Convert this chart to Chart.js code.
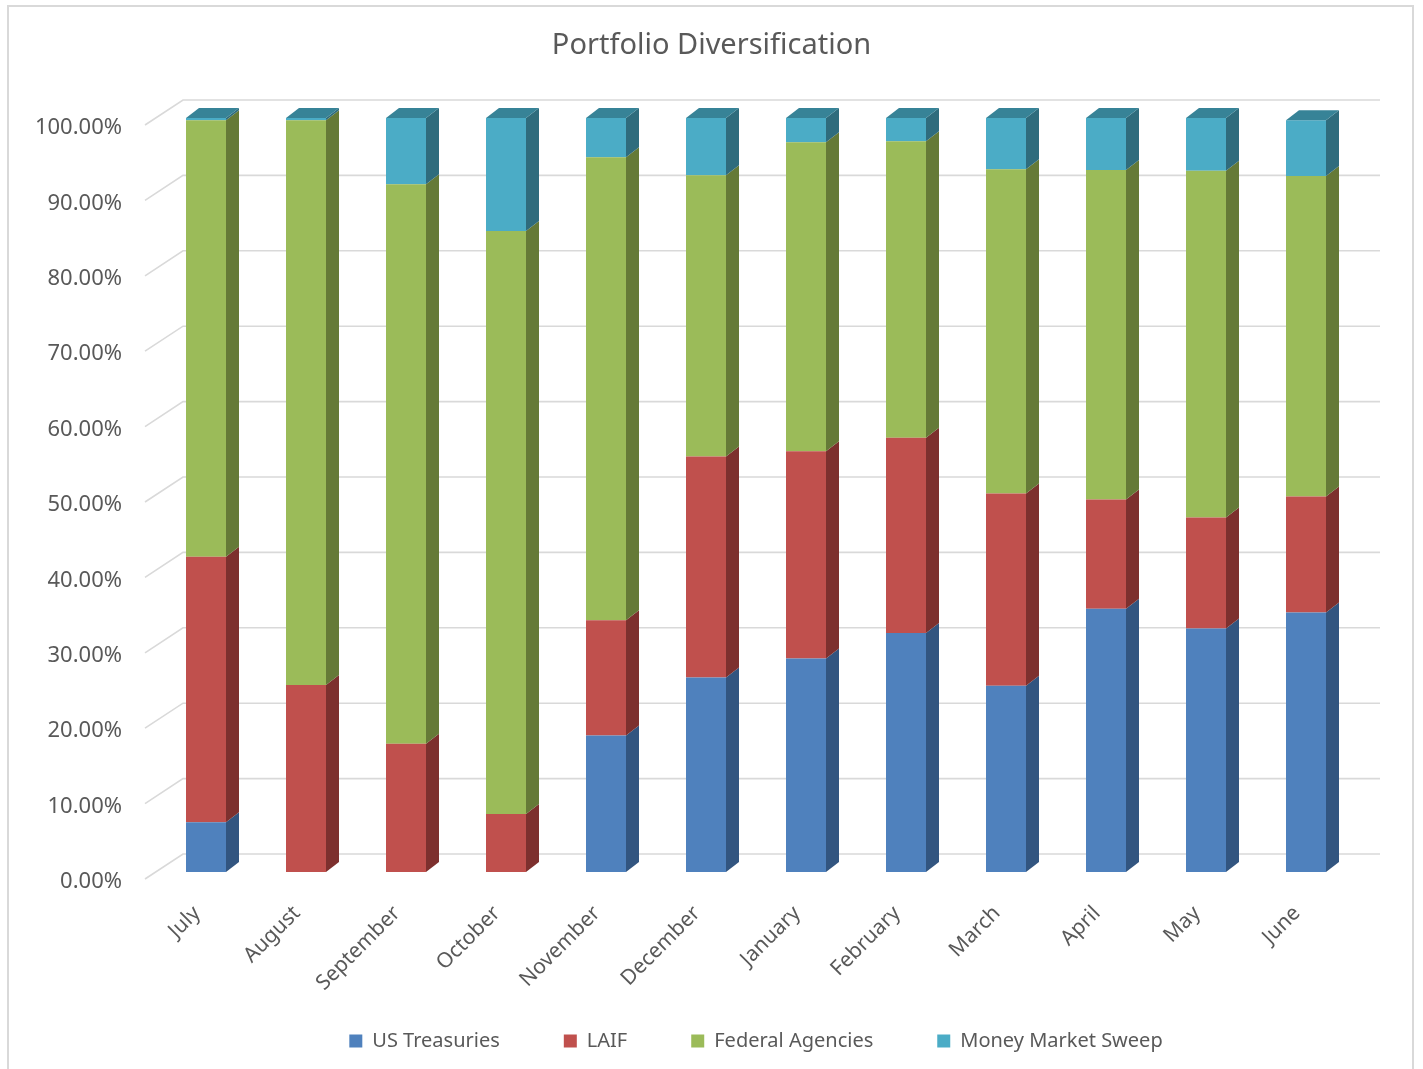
<!DOCTYPE html>
<html>
<head>
<meta charset="utf-8">
<title>Portfolio Diversification</title>
<script src="https://cdn.jsdelivr.net/npm/chart.js@4.4.1/dist/chart.umd.min.js"></script>
<style>
  html, body { margin: 0; padding: 0; background: #ffffff; }
  #wrap { position: relative; width: 1423px; height: 1069px; overflow: hidden; }
  #frame { position: absolute; left: 7px; top: 5px; width: 1407px; height: 1080px;
           border: 2px solid #d9d9d9; box-sizing: border-box; pointer-events: none; }
  canvas { position: absolute; left: 0; top: 0; }
</style>
</head>
<body>
<div id="wrap">
  <canvas id="chart" width="1423" height="1069"></canvas>
  <div id="frame"></div>
</div>
<script>
// Months of the fiscal year
const months = ['July', 'August', 'September', 'October', 'November', 'December',
                'January', 'February', 'March', 'April', 'May', 'June'];

// Share of the portfolio held in each instrument, percent
const usTreasuries     = [6.6, 0, 0, 0, 18.1, 25.8, 28.3, 31.7, 24.7, 34.9, 32.3, 34.4];
const laif             = [35.2, 24.8, 17.0, 7.7, 15.3, 29.3, 27.5, 25.9, 25.5, 14.5, 14.7, 15.4];
const federalAgencies  = [57.9, 74.9, 74.2, 77.3, 61.4, 37.3, 41.0, 39.3, 43.0, 43.7, 46.0, 42.5];
const moneyMarketSweep = [0.3, 0.3, 8.8, 15.0, 5.2, 7.6, 3.2, 3.1, 6.8, 6.9, 7.0, 7.4];

const seriesNames = ['US Treasuries', 'LAIF', 'Federal Agencies', 'Money Market Sweep'];

// Value axis ticks, percent
const yTicks = [0, 10, 20, 30, 40, 50, 60, 70, 80, 90, 100];

// Face colours: front, side, top
const frontColors = ['#4f81bd', '#c0504d', '#9bbb59', '#4bacc6'];
const sideColors  = ['#325580', '#7d302e', '#657a37', '#2f6c7d'];
const topColors   = ['#3d6696', '#9a3f3d', '#7d9747', '#378397'];

// Depth of the bars and of the back wall (pixels)
const BAR_DX = 13, BAR_DY = -10;
const WALL_DX = 27, WALL_DY = -18;
const FLOOR_FRONT_DX = -11, FLOOR_FRONT_DY = 7;
const WALL_RIGHT_EXTRA = 24;

const seriesValues = [usTreasuries, laif, federalAgencies, moneyMarketSweep];

// Back wall gridlines with the floor diagonals
const wallGrid = {
  id: 'wallGrid',
  beforeDatasetsDraw(chart) {
    const { ctx, chartArea } = chart;
    const y = chart.scales.y;
    ctx.save();
    ctx.strokeStyle = '#d9d9d9';
    ctx.lineWidth = 1.6;
    yTicks.forEach(v => {
      const py = y.getPixelForValue(v);
      ctx.beginPath();
      ctx.moveTo(chartArea.left + FLOOR_FRONT_DX, py + FLOOR_FRONT_DY);
      ctx.lineTo(chartArea.left + WALL_DX, py + WALL_DY);
      ctx.lineTo(chartArea.right + WALL_RIGHT_EXTRA, py + WALL_DY);
      ctx.stroke();
    });
    ctx.restore();
  }
};

// Side and top faces of each stacked column
const columnDepth = {
  id: 'columnDepth',
  afterDatasetsDraw(chart) {
    const { ctx } = chart;
    ctx.save();
    const n = chart.data.labels.length;
    for (let i = 0; i < n; i++) {
      let topDs = -1;
      chart.data.datasets.forEach((ds, d) => {
        const bar = chart.getDatasetMeta(d).data[i];
        const v = ds.data[i];
        if (!bar || !v) return;
        topDs = d;
        const right = bar.x + bar.width / 2;
        ctx.fillStyle = sideColors[d];
        ctx.beginPath();
        ctx.moveTo(right, bar.y);
        ctx.lineTo(right + BAR_DX, bar.y + BAR_DY);
        ctx.lineTo(right + BAR_DX, bar.base + BAR_DY);
        ctx.lineTo(right, bar.base);
        ctx.closePath();
        ctx.fill();
      });
      if (topDs >= 0) {
        const bar = chart.getDatasetMeta(topDs).data[i];
        const left = bar.x - bar.width / 2, right = bar.x + bar.width / 2;
        ctx.fillStyle = topColors[topDs];
        ctx.beginPath();
        ctx.moveTo(left, bar.y);
        ctx.lineTo(left + BAR_DX, bar.y + BAR_DY);
        ctx.lineTo(right + BAR_DX, bar.y + BAR_DY);
        ctx.lineTo(right, bar.y);
        ctx.closePath();
        ctx.fill();
      }
    }
    ctx.restore();
  }
};

// Tick labels may run outside their axis box
const noLabelClip = scale => { scale._computeLabelArea = () => null; };

const FONT = "'Noto Sans', 'Open Sans', sans-serif";
const TEXT = '#595959';

new Chart(document.getElementById('chart'), {
  type: 'bar',
  data: {
    labels: months,
    datasets: seriesNames.map((name, d) => ({
      label: name,
      data: seriesValues[d],
      backgroundColor: frontColors[d],
      borderWidth: 0,
      barPercentage: 0.4,
      categoryPercentage: 1.0
    }))
  },
  options: {
    responsive: false,
    animation: false,
    events: [],
    layout: { padding: { left: 67, right: 67, top: 0, bottom: 8 } },
    scales: {
      x: {
        stacked: true,
        grid: { display: false, drawTicks: false },
        border: { display: false },
        ticks: {
          color: TEXT,
          font: { family: FONT, size: 21 },
          minRotation: 45,
          maxRotation: 45,
          padding: 29,
          labelOffset: -9,
          autoSkip: false
        },
        afterFit(scale) { scale.height = 95; noLabelClip(scale); }
      },
      y: {
        stacked: true,
        min: 0,
        max: 100,
        grid: { display: false, drawTicks: false },
        border: { display: false },
        afterBuildTicks(scale) { scale.ticks = yTicks.map(v => ({ value: v })); },
        ticks: {
          color: TEXT,
          font: { family: FONT, size: 22 },
          padding: 34,
          labelOffset: 10,
          callback: v => v.toFixed(2) + '%'
        },
        afterFit(scale) { scale.width = 89; noLabelClip(scale); }
      }
    },
    plugins: {
      title: {
        display: true,
        text: 'Portfolio Diversification',
        color: TEXT,
        font: { family: FONT, size: 29, weight: 'normal' },
        padding: { top: 28.6, bottom: 54.6 }
      },
      legend: {
        display: true,
        position: 'bottom',
        fullSize: false,
        labels: {
          color: TEXT,
          font: { family: FONT, size: 20 },
          boxWidth: 13,
          boxHeight: 13,
          padding: 64
        }
      },
      tooltip: { enabled: false }
    }
  },
  plugins: [wallGrid, columnDepth]
});
</script>
</body>
</html>
